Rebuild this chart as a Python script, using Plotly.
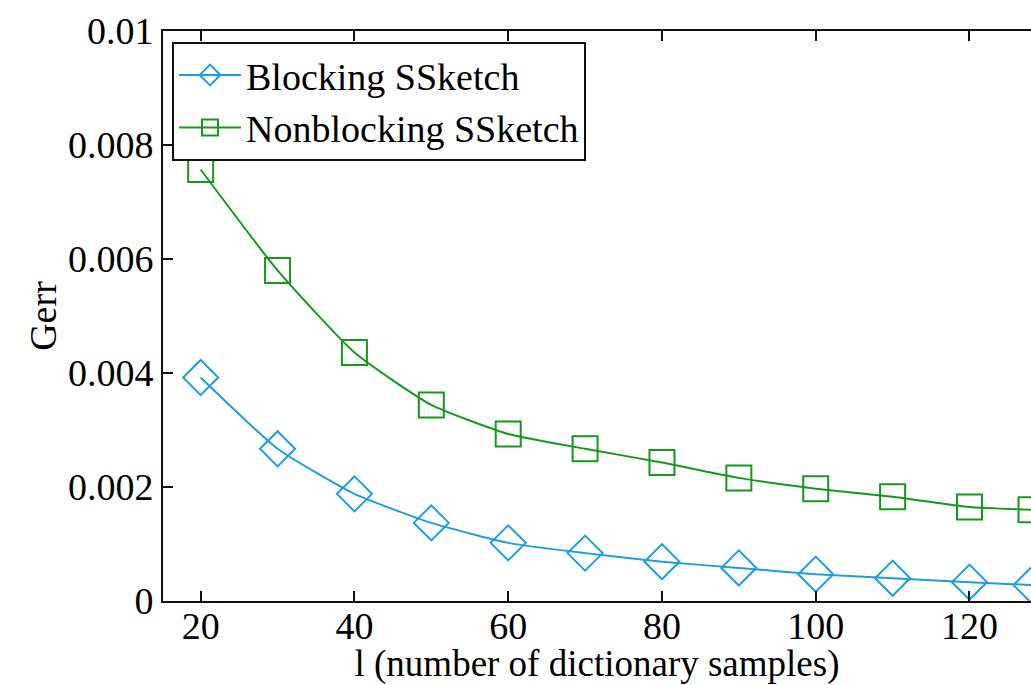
import plotly.graph_objects as go

samples = [20, 30, 40, 50, 60, 70, 80, 90, 100, 110, 120, 128]
blocking = [0.00392, 0.00267, 0.00188, 0.00137, 0.00102, 0.00084, 0.00069, 0.00058, 0.00047, 0.00040, 0.00033, 0.00028]
nonblocking = [0.00757, 0.00580, 0.00436, 0.00344, 0.00293, 0.00267, 0.00243, 0.00216, 0.00197, 0.00183, 0.00165, 0.00160]
x_ticks = [20, 40, 60, 80, 100, 120]
y_ticks = [0, 0.002, 0.004, 0.006, 0.008, 0.01]
y_tick_labels = ["0", "0.002", "0.004", "0.006", "0.008", "0.01"]

BLUE = "#1c9fe0"
GREEN = "#16981c"
FONT = "Liberation Serif"
FS = 38

fig = go.Figure()
fig.add_trace(go.Scatter(
    x=samples, y=blocking, name="Blocking SSketch", mode="lines+markers",
    line=dict(color=BLUE, width=2, shape="spline", smoothing=0.5),
    marker=dict(symbol="diamond-open", size=27, color=BLUE, line=dict(width=2, color=BLUE)),
))
fig.add_trace(go.Scatter(
    x=samples, y=nonblocking, name="Nonblocking SSketch", mode="lines+markers",
    line=dict(color=GREEN, width=2, shape="spline", smoothing=0.5),
    marker=dict(symbol="square-open", size=25, color=GREEN, line=dict(width=2, color=GREEN)),
))
# invisible trace to activate the top axis
fig.add_trace(go.Scatter(x=[samples[0]], y=[blocking[0]], xaxis="x2", mode="markers",
                         marker=dict(opacity=0), showlegend=False, hoverinfo="skip"))

fig.update_layout(
    width=1031, height=685,
    margin=dict(l=163, r=0, t=31, b=84),
    paper_bgcolor="white", plot_bgcolor="white",
    font=dict(family=FONT, size=FS, color="black"),
    showlegend=True,
    legend=dict(x=0.0104, y=0.981, xanchor="left", yanchor="top",
                bgcolor="white", bordercolor="#111", borderwidth=2,
                font=dict(family=FONT, size=FS, color="black"),
                tracegroupgap=0, itemwidth=62),
    xaxis=dict(range=[15.1, 128.0], tickvals=x_ticks, ticks="inside", ticklen=10,
               tickwidth=2, tickcolor="#111", showline=True, linecolor="#111", linewidth=2,
               showgrid=False, zeroline=False, ticklabelstandoff=-10,
               title=dict(text="l (number of dictionary samples)", font=dict(size=37), standoff=12),
               tickfont=dict(size=FS)),
    xaxis2=dict(range=[15.1, 128.0], overlaying="x", side="top", tickvals=x_ticks,
                ticks="inside", ticklen=10, tickwidth=2, tickcolor="#111",
                showline=True, linecolor="#111", linewidth=2, showticklabels=False,
                showgrid=False, zeroline=False),
    yaxis=dict(range=[0, 0.01], tickvals=y_ticks, ticktext=y_tick_labels, ticks="inside",
               ticklen=10, tickwidth=2, tickcolor="#111", showline=True, linecolor="#111",
               linewidth=2, showgrid=False, zeroline=False,
               title=dict(text="Gerr", font=dict(size=FS), standoff=0),
               tickfont=dict(size=FS)),
)

fig.write_html("out.html")
